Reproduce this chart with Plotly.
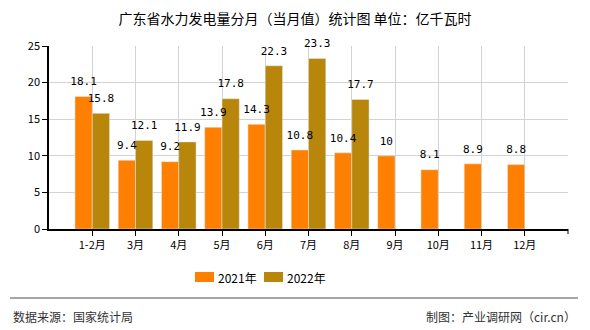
import plotly.graph_objects as go

categories = ["1-2月", "3月", "4月", "5月", "6月", "7月", "8月", "9月", "10月", "11月", "12月"]
values_2021 = [18.1, 9.4, 9.2, 13.9, 14.3, 10.8, 10.4, 10, 8.1, 8.9, 8.8]
values_2022 = [15.8, 12.1, 11.9, 17.8, 22.3, 23.3, 17.7, None, None, None, None]
y_ticks = [0, 5, 10, 15, 20, 25]
series_names = ["2021年", "2022年"]
series_colors = ["#FF8000", "#B8860B"]

W, H = 590, 330
L, R, T, B = 49, 22, 46, 101
PW, PH = W - L - R, H - T - B

def px_x(x):
    return (x - L) / PW

def px_y(y):
    return (H - B - y) / PH

idx = list(range(len(categories)))

def fmt(v):
    if v is None:
        return ""
    return ("%g" % v)

series = [(values_2021, series_names[0], series_colors[0], -0.4),
          (values_2022, series_names[1], series_colors[1], 0.0)]

fig = go.Figure()
for vals, name, col, off in series:
    fig.add_trace(go.Bar(
        x=idx, y=vals, name=name, marker_color=col,
        offset=off, width=0.4, showlegend=False,
    ))
# value labels drawn on top of all bars
for vals, name, col, off in series:
    xs = [i + off + 0.2 for i, v in zip(idx, vals) if v is not None]
    ys = [v for v in vals if v is not None]
    fig.add_trace(go.Scatter(
        x=xs, y=ys, mode="markers+text", text=[fmt(v) for v in ys],
        textposition="top center", marker=dict(size=12, opacity=0),
        textfont=dict(family="DejaVu Sans Mono, monospace", size=11, color="#000"),
        cliponaxis=False, showlegend=False, hoverinfo="skip",
    ))

# right-end tick mark on x axis
shapes = [dict(type="line", xref="paper", yref="paper",
               x0=1, x1=1, y0=0, y1=-5 / PH, line=dict(color="#000", width=1))]
shapes.append(dict(type="line", xref="paper", yref="paper",
                   x0=px_x(10), x1=px_x(578), y0=px_y(298), y1=px_y(298),
                   line=dict(color="#888", width=1.5)))
annotations = [
    dict(text="数据来源：国家统计局", xref="paper", yref="paper",
         x=px_x(11), xanchor="left", y=px_y(316), yanchor="middle", showarrow=False,
         font=dict(size=12, color="#333")),
    dict(text="制图：产业调研网（cir.cn）", xref="paper", yref="paper",
         x=px_x(578), xanchor="right", y=px_y(316), yanchor="middle", showarrow=False,
         font=dict(size=12, color="#333")),
]
# legend drawn manually
for i, (name, col) in enumerate(zip(series_names, series_colors)):
    x0 = 195 + i * 69
    shapes.append(dict(type="rect", xref="paper", yref="paper",
                       x0=px_x(x0), x1=px_x(x0 + 19), y0=px_y(282), y1=px_y(272),
                       fillcolor=col, line=dict(width=0)))
    annotations.append(dict(text=name, xref="paper", yref="paper",
                            x=px_x(x0 + 21), xanchor="left", y=px_y(277), yanchor="middle",
                            showarrow=False, font=dict(size=12, color="#000")))

fig.update_layout(
    width=W, height=H,
    margin=dict(l=L, r=R, t=T, b=B),
    paper_bgcolor="white", plot_bgcolor="white",
    font=dict(family="Noto Sans CJK SC", size=12, color="#000"),
    title=dict(text="广东省水力发电量分月（当月值）统计图 单位：亿千瓦时", x=0.5, xanchor="center",
               y=1 - 19 / H, yanchor="middle", font=dict(size=14, color="#000")),
    barmode="overlay",
    showlegend=False,
    xaxis=dict(
        tickmode="array", tickvals=idx, ticktext=categories,
        range=[-1, 11], showgrid=True, gridcolor="#D3D3D3", gridwidth=1,
        showline=True, linecolor="#000", linewidth=1.5,
        ticks="outside", ticklen=5, tickcolor="#000", zeroline=False,
        tickfont=dict(size=11),
    ),
    yaxis=dict(
        range=[0, 25], tickvals=y_ticks, showgrid=True, gridcolor="#D3D3D3", gridwidth=1,
        showline=True, linecolor="#000", linewidth=1.5,
        ticks="outside", ticklen=5, tickcolor="#000", zeroline=False,
        tickfont=dict(size=11),
    ),
    shapes=shapes,
    annotations=annotations,
)

fig.write_html("out.html")
